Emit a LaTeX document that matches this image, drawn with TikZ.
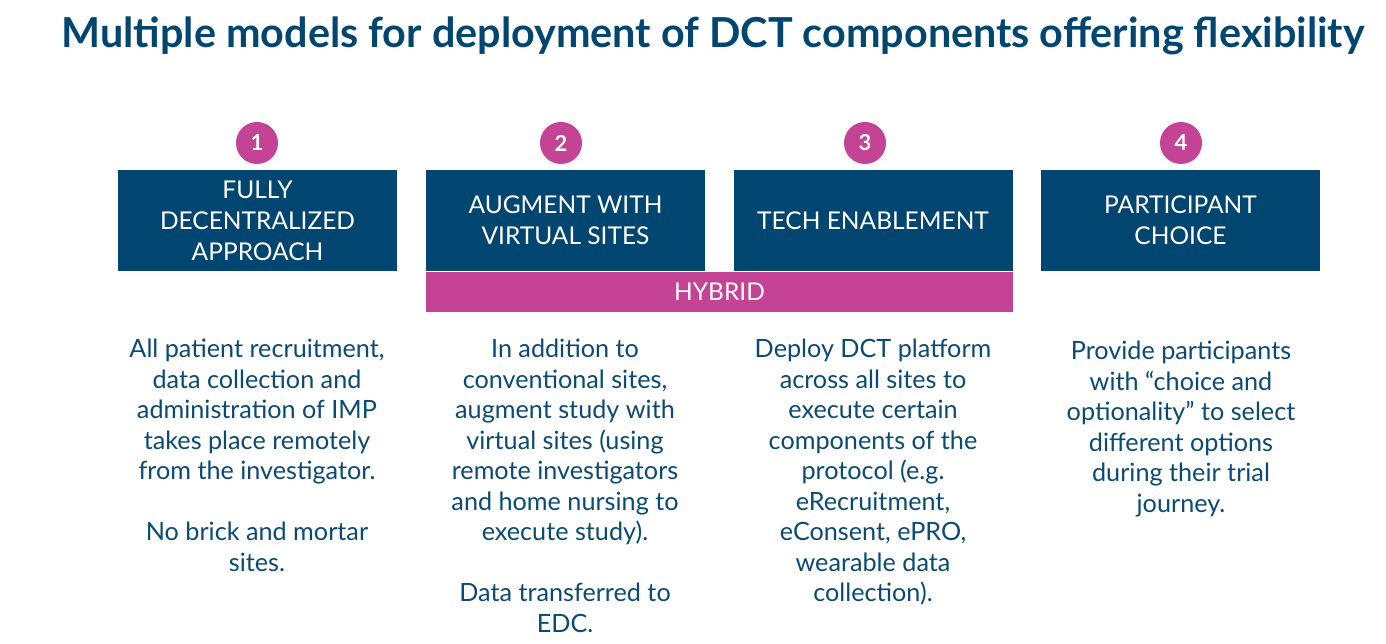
\documentclass[tikz,border=0pt]{standalone}
\usepackage{fontspec}
\setmainfont{Lato}
\usepackage{xcolor}
\usepackage{tikz}

\definecolor{dctblue}{RGB}{0,70,112}
\definecolor{dctpink}{RGB}{196,67,148}
\definecolor{dcttext}{RGB}{10,74,115}

\tikzset{
  numdot/.style={circle, fill=dctpink, text=white, minimum size=42pt, inner sep=0pt, font=\fontsize{22}{26}\selectfont\bfseries},
  modelbox/.style={fill=dctblue, text=white, minimum width=279pt, minimum height=101pt, inner sep=0pt, align=center, font=\fontsize{24.5}{31}\selectfont},
  desc/.style={text=dcttext, align=center, anchor=north, inner sep=0pt, font=\fontsize{25.2}{30.5}\selectfont}
}

\begin{document}
\begin{tikzpicture}[x=1pt, y=1pt]
  \useasboundingbox (0,0) rectangle (1386,-644);
  % Title
  \node[anchor=base, text=dctblue, font=\fontsize{41.3}{46}\selectfont\bfseries] (title) at (713,-48) {Multiple models for deployment of DCT components offering flexibility};
  % Numbers
  \foreach \i/\x in {1/257, 2/561, 3/865, 4/1181} {
    \node[numdot] (n\i) at (\x,-143) {\i};
  }
  % Model boxes
  \node[modelbox] (b1) at (257.5,-220.5) {FULLY\\DECENTRALIZED\\APPROACH};
  \node[modelbox] (b2) at (565.5,-220.5) {AUGMENT WITH\\VIRTUAL SITES};
  \node[modelbox] (b3) at (873,-220.5) {TECH ENABLEMENT};
  \node[modelbox] (b4) at (1180.5,-220.5) {PARTICIPANT\\CHOICE};
  % Hybrid bar
  \node[fill=dctpink, text=white, minimum width=587pt, minimum height=40pt, inner sep=0pt, font=\fontsize{24.5}{28}\selectfont] (hybrid) at (719.5,-292) {HYBRID};
  % Descriptions
  \node[desc] (d1) at (257,-339) {All patient recruitment,\\data collection and\\administration of IMP\\takes place remotely\\from the investigator.\\[30.5pt]No brick and mortar\\sites.};
  \node[desc] (d2) at (565,-339) {In addition to\\conventional sites,\\augment study with\\virtual sites (using\\remote investigators\\and home nursing to\\execute study).\\[30.5pt]Data transferred to\\EDC.};
  \node[desc] (d3) at (873,-339) {Deploy DCT platform\\across all sites to\\execute certain\\components of the\\protocol (e.g.\\eRecruitment,\\eConsent, ePRO,\\wearable data\\collection).};
  \node[desc] (d4) at (1181,-341) {Provide participants\\with “choice and\\optionality\char34{} to select\\different options\\during their trial\\journey.};
\end{tikzpicture}
\end{document}
